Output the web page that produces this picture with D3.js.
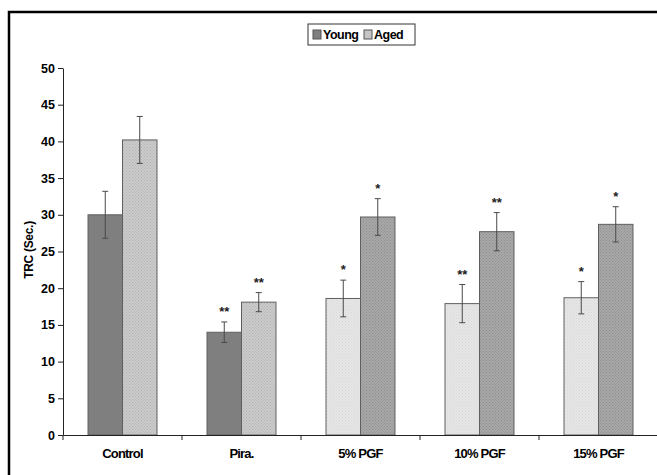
<!DOCTYPE html>
<html>
<head>
<meta charset="utf-8">
<script src="https://cdn.jsdelivr.net/npm/d3@7"></script>
<style>
  body { margin: 0; background: #fff; }
  svg text { font-family: "Liberation Sans", Arial, sans-serif; font-weight: bold; }
</style>
</head>
<body>
<div id="chart"></div>
<script>
// data
var categories = ["Control", "Pira.", "5% PGF", "10% PGF", "15% PGF"];
var series = ["Young", "Aged"];
var young = [30.0, 14.0, 18.6, 17.9, 18.7];
var aged = [40.2, 18.1, 29.7, 27.7, 28.7];
var youngErr = [3.2, 1.4, 2.5, 2.6, 2.2];
var agedErr = [3.2, 1.3, 2.5, 2.6, 2.4];
var youngSig = ["", "**", "*", "**", "*"];
var agedSig = ["", "**", "*", "**", "*"];
var yTicks = [0, 5, 10, 15, 20, 25, 30, 35, 40, 45, 50];

var width = 657, height = 475;
var plotL = 63, plotR = 658, plotT = 68, plotB = 435;

var svg = d3.select("#chart").append("svg")
    .attr("width", width)
    .attr("height", height);

// textures for the bars
var defs = svg.append("defs");
function dotted(id, base, dot) {
  var p = defs.append("pattern")
    .attr("id", id)
    .attr("patternUnits", "userSpaceOnUse")
    .attr("width", 3).attr("height", 3);
  p.append("rect").attr("width", 3).attr("height", 3).attr("fill", base);
  p.append("rect").attr("x", 0).attr("y", 0).attr("width", 1).attr("height", 1).attr("fill", dot);
  p.append("rect").attr("x", 1.5).attr("y", 1.5).attr("width", 1).attr("height", 1).attr("fill", dot);
}
dotted("lightDots", "#cbcbcb", "#b2b2b2");
dotted("paleDots", "#e7e7e7", "#d6d6d6");
dotted("midDots", "#a8a8a8", "#8e8e8e");

// Control / Pira use the legend look, PGF groups are drawn pale/mid
function barFill(ci, s) {
  if (ci < 2) return s == 0 ? "#7f7f7f" : "url(#lightDots)";
  return s == 0 ? "url(#paleDots)" : "url(#midDots)";
}

// outer frame (cut off on right and bottom)
svg.append("rect")
  .attr("x", 9).attr("y", 12)
  .attr("width", 720).attr("height", 520)
  .attr("fill", "none")
  .attr("stroke", "#000")
  .attr("stroke-width", 2.5);

var x0 = d3.scaleBand()
    .domain(categories)
    .range([plotL, plotR])
    .padding(0);

var x1 = d3.scaleBand()
    .domain(series)
    .range([0, x0.bandwidth()])
    .paddingInner(0)
    .paddingOuter(0.725);

var y = d3.scaleLinear()
    .domain([0, 50])
    .range([plotB, plotT]);

var rows = categories.map(function(c, i) {
  return [
    { cat: c, ci: i, s: 0, v: young[i], e: youngErr[i], sig: youngSig[i] },
    { cat: c, ci: i, s: 1, v: aged[i], e: agedErr[i], sig: agedSig[i] }
  ];
});
var bars = d3.merge(rows);

function bx(d) { return x0(d.cat) + x1(series[d.s]); }

svg.selectAll(".bar")
  .data(bars)
  .enter().append("rect")
  .attr("class", "bar")
  .attr("x", bx)
  .attr("y", function(d) { return y(d.v); })
  .attr("width", x1.bandwidth())
  .attr("height", function(d) { return y(0) - y(d.v); })
  .attr("fill", function(d) { return barFill(d.ci, d.s); })
  .attr("stroke", "#5f5f5f")
  .attr("stroke-width", 1);

// error bars
var eb = svg.selectAll(".err")
  .data(bars)
  .enter().append("g")
  .attr("class", "err")
  .attr("stroke", "#4a4a4a")
  .attr("stroke-width", 1);

eb.append("line")
  .attr("x1", function(d) { return bx(d) + x1.bandwidth() / 2; })
  .attr("x2", function(d) { return bx(d) + x1.bandwidth() / 2; })
  .attr("y1", function(d) { return y(d.v + d.e); })
  .attr("y2", function(d) { return y(d.v - d.e); });

eb.selectAll(".cap")
  .data(function(d) { return [d.v + d.e, d.v - d.e].map(function(v) { return { d: d, v: v }; }); })
  .enter().append("line")
  .attr("x1", function(c) { return bx(c.d) + x1.bandwidth() / 2 - 3; })
  .attr("x2", function(c) { return bx(c.d) + x1.bandwidth() / 2 + 3; })
  .attr("y1", function(c) { return y(c.v); })
  .attr("y2", function(c) { return y(c.v); });

// significance stars
svg.selectAll(".sig")
  .data(bars.filter(function(d) { return d.sig; }))
  .enter().append("text")
  .attr("class", "sig")
  .attr("x", function(d) { return bx(d) + x1.bandwidth() / 2; })
  .attr("y", function(d) { return y(d.v + d.e) - 6; })
  .attr("text-anchor", "middle")
  .attr("font-size", 13)
  .attr("fill", "#222")
  .text(function(d) { return d.sig; });

// y axis
var yAxis = svg.append("g")
  .attr("transform", "translate(" + plotL + ",0)")
  .call(d3.axisLeft(y).tickValues(yTicks).tickSize(5).tickSizeOuter(0).tickPadding(3));
yAxis.select(".domain").attr("stroke", "#222");
yAxis.selectAll(".tick line").attr("stroke", "#222");
yAxis.selectAll("text").attr("font-size", 12.5).attr("fill", "#000")
  .style("font-family", "'Liberation Sans', Arial, sans-serif").style("font-weight", "bold");

// x axis: labels at band centres, ticks at band edges
var xAxis = svg.append("g")
  .attr("transform", "translate(0," + plotB + ")")
  .call(d3.axisBottom(x0).tickSize(0).tickPadding(14));
xAxis.select(".domain").attr("stroke", "#222");
xAxis.selectAll("text").attr("font-size", 13).attr("fill", "#000")
  .attr("letter-spacing", -0.8)
  .style("font-family", "'Liberation Sans', Arial, sans-serif").style("font-weight", "bold");

xAxis.selectAll(".edge")
  .data(categories.map(function(c) { return x0(c); }).concat([plotR]))
  .enter().append("line")
  .attr("class", "edge")
  .attr("x1", function(d) { return d; })
  .attr("x2", function(d) { return d; })
  .attr("y1", 0).attr("y2", 5)
  .attr("stroke", "#222");

// y axis title
svg.append("text")
  .attr("transform", "translate(33,250) rotate(-90)")
  .attr("text-anchor", "middle")
  .attr("font-size", 12)
  .attr("letter-spacing", -0.3)
  .attr("fill", "#000")
  .text("TRC (Sec.)");

// legend
var lg = svg.append("g").attr("transform", "translate(308,24)");
lg.append("rect")
  .attr("width", 107).attr("height", 21)
  .attr("fill", "#fff")
  .attr("stroke", "#333")
  .attr("stroke-width", 1);
var legendSwatch = ["#7f7f7f", "url(#lightDots)"];
var legendX = [5, 56];
series.forEach(function(s, i) {
  lg.append("rect")
    .attr("x", legendX[i]).attr("y", 6)
    .attr("width", 8).attr("height", 9)
    .attr("fill", legendSwatch[i])
    .attr("stroke", "#555");
  lg.append("text")
    .attr("x", legendX[i] + 10).attr("y", 15)
    .attr("font-size", 12.5)
    .attr("letter-spacing", -0.5)
    .attr("fill", "#000")
    .text(s);
});
</script>
</body>
</html>
